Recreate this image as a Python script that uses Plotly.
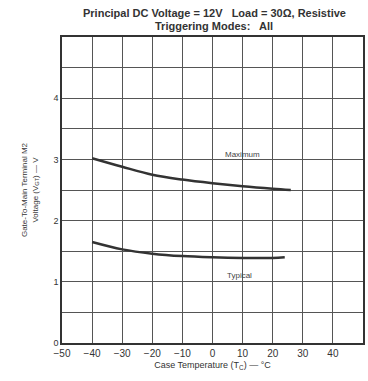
import plotly.graph_objects as go

temp_max = [-40, -30, -20, -10, 0, 10, 20, 26]
v_max = [3.02, 2.88, 2.75, 2.67, 2.61, 2.56, 2.52, 2.50]
temp_typ = [-40, -30, -20, -10, 0, 10, 20, 24]
v_typ = [1.65, 1.53, 1.46, 1.42, 1.40, 1.39, 1.39, 1.40]
x_ticks = [-50, -40, -30, -20, -10, 0, 10, 20, 30, 40]
y_ticks = [0, 1, 2, 3, 4]

FONT = "Liberation Sans, Arial, sans-serif"
LINE = "#333333"

fig = go.Figure()
fig.add_trace(go.Scatter(x=temp_max, y=v_max, mode="lines", line=dict(color=LINE, width=2.5, shape="spline"), showlegend=False))
fig.add_trace(go.Scatter(x=temp_typ, y=v_typ, mode="lines", line=dict(color=LINE, width=2.5, shape="spline"), showlegend=False))

fig.add_annotation(x=10, y=3.08, text="Maximum", showarrow=False, font=dict(family=FONT, size=8, color="#444"))
fig.add_annotation(x=9, y=1.1, text="Typical", showarrow=False, font=dict(family=FONT, size=8, color="#444"))

fig.add_annotation(xref="paper", yref="paper", x=0.505, y=1.078, text="<b>Principal DC Voltage = 12V   Load = 30Ω, Resistive</b>",
                   showarrow=False, xanchor="center", yanchor="middle", font=dict(family=FONT, size=11, color="#333"))
fig.add_annotation(xref="paper", yref="paper", x=0.505, y=1.037, text="<b>Triggering Modes:   All</b>",
                   showarrow=False, xanchor="center", yanchor="middle", font=dict(family=FONT, size=11, color="#333"))

fig.update_layout(
    width=368, height=381,
    margin=dict(l=62, r=3, t=37, b=38),
    paper_bgcolor="white", plot_bgcolor="white",
    font=dict(family=FONT, size=9, color="#333"),
    xaxis=dict(range=[-50, 50], tickvals=x_ticks, ticktext=[str(v).replace("-", "−") for v in x_ticks],
               showgrid=True, gridcolor="#555", gridwidth=1,
               showline=True, linecolor="#333", linewidth=1.5, mirror=True, zeroline=False,
               ticks="", tickfont=dict(family=FONT, size=10, color="#333"),
               title=dict(text="Case Temperature (T<sub>C</sub>) — °C", font=dict(family=FONT, size=9, color="#333"), standoff=4)),
    yaxis=dict(range=[0, 5], tickvals=y_ticks, showgrid=True, gridcolor="#555", gridwidth=1,
               minor=dict(dtick=0.5, showgrid=True, gridcolor="#555", gridwidth=1),
               showline=True, linecolor="#333", linewidth=1.5, mirror=True, zeroline=False,
               ticks="", tickfont=dict(family=FONT, size=9, color="#333"),
               title=dict(text="Gate-To-Main Terminal M2<br>Voltage (V<sub>GT</sub>) — V", font=dict(family=FONT, size=8, color="#333"), standoff=14)),
)

fig.write_html("out.html")
